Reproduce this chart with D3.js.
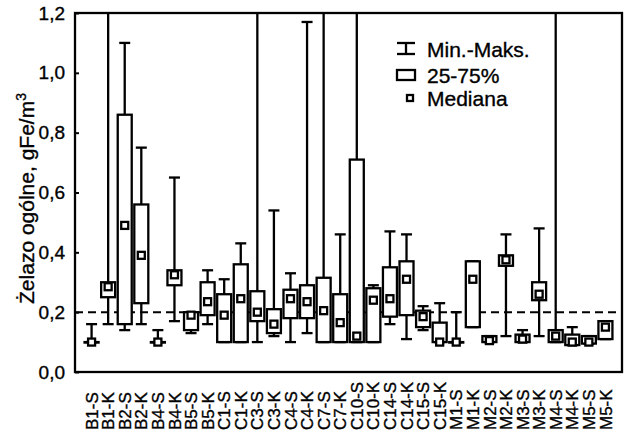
<!DOCTYPE html>
<html><head><meta charset="utf-8">
<script src="https://cdn.jsdelivr.net/npm/d3@7"></script>
<style>body{margin:0;background:#fff}svg{display:block;font-family:"Liberation Sans",Arial,sans-serif}svg text{stroke:#000;stroke-width:0.35px}</style>
</head><body>
<svg id="c" width="629" height="434"></svg>
<script>
const categories = ["B1-S","B1-K","B2-S","B2-K","B4-S","B4-K","B5-S","B5-K","C1-S","C1-K","C3-S","C3-K","C4-S","C4-K","C7-S","C7-K","C10-S","C10-K","C14-S","C14-K","C15-S","C15-K","M1-S","M1-K","M2-S","M2-K","M3-S","M3-K","M4-S","M4-K","M5-S","M5-K"];
const minVals = [0.10,0.16,0.14,0.16,0.10,0.17,0.13,0.16,0.10,0.10,0.10,0.12,0.10,0.13,0.10,0.10,0.10,0.10,0.16,0.11,0.14,0.10,0.10,0.15,0.10,0.12,0.10,0.12,0.10,0.09,0.095,0.11];
const q1Vals  = [0.10,0.25,0.16,0.23,0.10,0.29,0.14,0.19,0.10,0.10,0.17,0.13,0.18,0.18,0.10,0.10,0.10,0.10,0.185,0.19,0.15,0.10,0.10,0.15,0.10,0.355,0.10,0.24,0.10,0.09,0.095,0.11];
const medians = [0.10,0.285,0.49,0.39,0.10,0.325,0.19,0.235,0.19,0.245,0.20,0.16,0.245,0.235,0.205,0.165,0.12,0.24,0.245,0.31,0.185,0.10,0.10,0.31,0.105,0.375,0.11,0.26,0.12,0.10,0.10,0.15];
const q3Vals  = [0.10,0.30,0.86,0.56,0.10,0.34,0.20,0.30,0.26,0.36,0.27,0.21,0.275,0.29,0.315,0.26,0.71,0.28,0.35,0.37,0.205,0.165,0.10,0.37,0.12,0.39,0.125,0.30,0.14,0.125,0.12,0.17];
const maxVals = [0.16,1.35,1.10,0.75,0.14,0.65,0.20,0.34,0.31,0.43,1.35,0.54,0.33,1.17,1.35,0.46,1.35,0.29,0.47,0.46,0.22,0.23,0.20,0.37,0.12,0.46,0.14,0.48,1.35,0.15,0.12,0.17];
const yTicks = [0,0.2,0.4,0.6,0.8,1.0,1.2];
const limitValue = 0.2;
const legendLabels = ["Min.-Maks.","25-75%","Mediana"];
const yTitle = "Żelazo ogólne, gFe/m";

const data = categories.map((c,i)=>({c,min:minVals[i],q1:q1Vals[i],med:medians[i],q3:q3Vals[i],max:maxVals[i]}));

const L=75,R=622,T=13,B=372;
const svg=d3.select("#c");
const x=d3.scalePoint().domain(categories).range([L,R]).padding(1);
const y=d3.scaleLinear().domain([0,1.2]).range([B,T]);
const SW=2.3;

svg.append("clipPath").attr("id","clip").append("rect").attr("x",L).attr("y",T).attr("width",R-L).attr("height",B-T);
const g=svg.append("g").attr("clip-path","url(#clip)");

g.append("line").attr("x1",L).attr("x2",R).attr("y1",y(limitValue)).attr("y2",y(limitValue))
 .attr("stroke","#000").attr("stroke-width",2).attr("stroke-dasharray","8,5");

const bw=14, cw=11, ms=7;
const items=g.selectAll("g.bx").data(data).join("g").attr("class","bx");
items.append("line").attr("x1",d=>x(d.c)).attr("x2",d=>x(d.c)).attr("y1",d=>y(d.min)).attr("y2",d=>y(d.max)).attr("stroke","#000").attr("stroke-width",SW);
items.append("line").attr("x1",d=>x(d.c)-cw/2).attr("x2",d=>x(d.c)+cw/2).attr("y1",d=>y(d.min)).attr("y2",d=>y(d.min)).attr("stroke","#000").attr("stroke-width",SW);
items.append("line").attr("x1",d=>x(d.c)-cw/2).attr("x2",d=>x(d.c)+cw/2).attr("y1",d=>y(d.max)).attr("y2",d=>y(d.max)).attr("stroke","#000").attr("stroke-width",SW);
items.append("rect").attr("x",d=>x(d.c)-bw/2).attr("width",bw).attr("y",d=>y(d.q3)).attr("height",d=>Math.max(0.5,y(d.q1)-y(d.q3)))
 .attr("fill","#fff").attr("stroke","#000").attr("stroke-width",SW);
items.append("rect").attr("x",d=>x(d.c)-ms/2).attr("width",ms).attr("y",d=>y(d.med)-ms/2).attr("height",ms)
 .attr("fill","#fff").attr("stroke","#000").attr("stroke-width",SW);

svg.append("rect").attr("x",L).attr("y",T).attr("width",R-L).attr("height",B-T).attr("fill","none").attr("stroke","#000").attr("stroke-width",2.3);

const yAxis=d3.axisLeft(y).tickValues(yTicks).tickSize(-4).tickPadding(10).tickFormat(d=>d3.format(".1f")(d).replace(".",","));
const ya=svg.append("g").attr("transform",`translate(${L},0)`).call(yAxis);
ya.select(".domain").remove();
ya.selectAll("line").attr("stroke","#000").attr("stroke-width",2);
ya.selectAll("text").attr("font-size",19).attr("fill","#000").attr("font-family","Liberation Sans, Arial, sans-serif");

svg.append("g").selectAll("text").data(categories).join("text")
 .attr("transform",d=>`translate(${x(d)},430) rotate(-90)`)
 .attr("dy","0.36em").attr("text-anchor","start").attr("font-size",17).attr("fill","#000").text(d=>d);

const yt=svg.append("text").attr("transform",`translate(34,${(T+B)/2+6}) rotate(-90)`).attr("text-anchor","middle").attr("font-size",21).attr("fill","#000");
yt.append("tspan").text(yTitle);
yt.append("tspan").attr("dy",-8).attr("font-size",14).text("3");

const lg=svg.append("g");
lg.append("line").attr("x1",406).attr("x2",406).attr("y1",43).attr("y2",54).attr("stroke","#000").attr("stroke-width",SW);
lg.append("line").attr("x1",397).attr("x2",415).attr("y1",43).attr("y2",43).attr("stroke","#000").attr("stroke-width",SW);
lg.append("line").attr("x1",397).attr("x2",415).attr("y1",54).attr("y2",54).attr("stroke","#000").attr("stroke-width",SW);
lg.append("rect").attr("x",397).attr("y",70).attr("width",18).attr("height",10).attr("fill","#fff").attr("stroke","#000").attr("stroke-width",SW);
lg.append("rect").attr("x",407).attr("y",95).attr("width",6).attr("height",6).attr("fill","#fff").attr("stroke","#000").attr("stroke-width",SW);
lg.selectAll("text").data(legendLabels).join("text").attr("x",427).attr("y",(d,i)=>[57,83,106][i])
 .attr("font-size",21).attr("fill","#000").text(d=>d);
</script>
</body></html>
